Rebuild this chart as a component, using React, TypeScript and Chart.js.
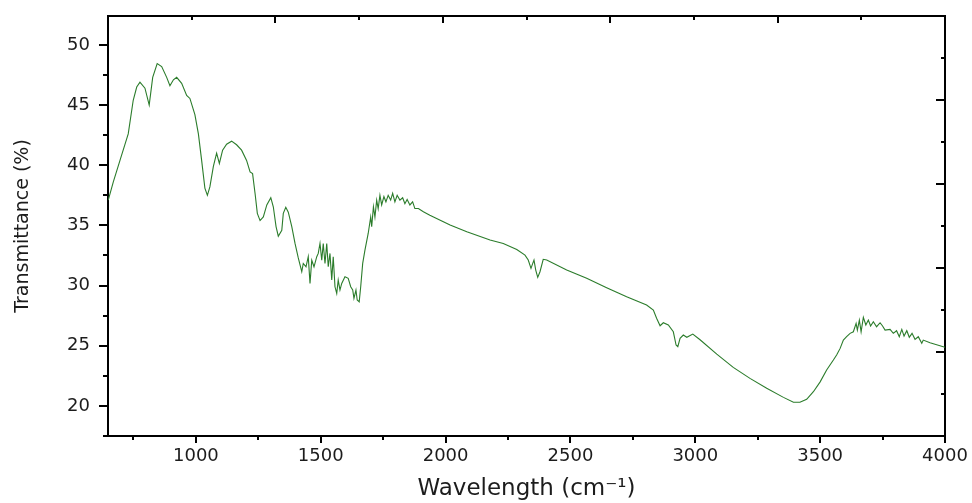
import React, { useEffect, useRef } from 'react';
import { Chart, registerables } from 'chart.js';

Chart.register(...registerables);

// FTIR spectrum
const wavenumber = [
  649, 669, 696, 729, 749, 763, 776, 796, 813, 827, 845, 863, 883, 896, 910, 923, 943, 963, 976, 996,
  1010, 1023, 1036, 1046, 1056, 1070, 1083, 1094, 1107, 1123, 1143, 1163, 1183, 1203, 1217, 1227, 1237, 1246, 1257, 1270,
  1284, 1300, 1310, 1321, 1330, 1344, 1350, 1360, 1370, 1384, 1397, 1410, 1424, 1430, 1441, 1450, 1457, 1464, 1473, 1484,
  1490, 1497, 1504, 1510, 1517, 1524, 1530, 1537, 1544, 1550, 1557, 1564, 1570, 1577, 1584, 1597, 1610, 1620, 1628, 1633,
  1641, 1646, 1654, 1660, 1668, 1677, 1690, 1700, 1704, 1711, 1717, 1724, 1730, 1737, 1744, 1753, 1761, 1770, 1780, 1788,
  1797, 1806, 1817, 1828, 1837, 1846, 1857, 1868, 1877, 1891, 1911, 1937, 1964, 2018, 2085, 2178, 2231, 2285, 2318, 2331,
  2342, 2349, 2354, 2361, 2369, 2378, 2391, 2405, 2485, 2565, 2645, 2725, 2805, 2832, 2845, 2859, 2872, 2892, 2912, 2923,
  2930, 2939, 2952, 2966, 2990, 3019, 3086, 3152, 3219, 3286, 3353, 3393, 3419, 3446, 3473, 3500, 3526, 3553, 3566, 3580,
  3593, 3606, 3620, 3633, 3644, 3649, 3657, 3664, 3673, 3683, 3693, 3702, 3713, 3726, 3740, 3750, 3760, 3780, 3793, 3806,
  3817, 3827, 3836, 3847, 3857, 3868, 3880, 3893, 3907, 3913, 3940, 4000,
];

const transmittance = [
  37.1, 38.6, 40.4, 42.6, 45.4, 46.5, 46.9, 46.4, 45.0, 47.3, 48.45, 48.2, 47.3, 46.6, 47.1, 47.3, 46.8, 45.8, 45.55, 44.2,
  42.6, 40.4, 38.1, 37.5, 38.2, 39.9, 41.0, 40.15, 41.25, 41.75, 42.0, 41.7, 41.25, 40.4, 39.45, 39.3, 37.65, 36.0, 35.4, 35.7,
  36.7, 37.3, 36.55, 34.9, 34.1, 34.6, 36.0, 36.5, 36.1, 34.9, 33.5, 32.3, 31.15, 31.84, 31.56, 32.4, 30.18, 32.1, 31.56, 32.4,
  32.67, 33.5, 32.1, 33.5, 31.84, 33.5, 31.56, 32.67, 30.46, 32.4, 29.9, 29.35, 30.46, 29.63, 30.18, 30.73, 30.6, 29.9, 29.63, 28.94,
  29.63, 28.8, 28.65, 29.9, 31.84, 32.95, 34.33, 35.7, 34.9, 36.55, 35.7, 37.1, 36.4, 37.5, 36.7, 37.4, 36.96, 37.5, 37.1, 37.66,
  36.96, 37.5, 37.1, 37.3, 36.8, 37.15, 36.7, 36.96, 36.4, 36.4, 36.13, 35.85, 35.58, 35.03, 34.47, 33.78, 33.5, 33.0, 32.53, 32.12,
  31.43, 31.84, 32.12, 31.29, 30.68, 31.15, 32.18, 32.12, 31.29, 30.6, 29.82, 29.07, 28.38, 27.97, 27.28, 26.66, 26.91, 26.72, 26.16, 25.06,
  24.92, 25.61, 25.89, 25.7, 25.97, 25.5, 24.3, 23.2, 22.29, 21.46, 20.71, 20.3, 20.3, 20.55, 21.18, 22.0, 22.98, 23.81, 24.23, 24.78,
  25.47, 25.75, 26.03, 26.16, 26.86, 26.3, 27.13, 26.16, 27.36, 26.72, 27.13, 26.64, 27.0, 26.58, 26.91, 26.64, 26.3, 26.36, 26.03, 26.25,
  25.75, 26.36, 25.8, 26.25, 25.7, 26.03, 25.53, 25.75, 25.2, 25.47, 25.25, 24.87,
];

const xMajorTicks = [1000, 1500, 2000, 2500, 3000, 3500, 4000];
const xMinorTicks = [750, 1250, 1750, 2250, 2750, 3250, 3750];
const yMajorTicks = [20, 25, 30, 35, 40, 45, 50];
const yMinorTicks = [17.5, 22.5, 27.5, 32.5, 37.5, 42.5, 47.5];
const frameMajorTicks = [2, 4, 6, 8];
const frameMinorTicks = [1, 3, 5, 7, 9];

const X_MIN = 648;
const X_MAX = 4000;
const Y_MIN = 17.5;
const Y_MAX = 52.4;

const FONT = 'DejaVu Sans';
const TEXT = '#1c1c1c';

const tickPlugin = {
  id: 'ftirTicks',
  afterDraw(chart: any) {
    const { ctx, chartArea: a, scales } = chart;
    ctx.save();
    ctx.strokeStyle = '#000';
    ctx.lineWidth = 2;
    const seg = (x1: number, y1: number, x2: number, y2: number) => {
      ctx.beginPath();
      ctx.moveTo(x1, y1);
      ctx.lineTo(x2, y2);
      ctx.stroke();
    };
    const b = Math.round(a.bottom);
    const l = Math.round(a.left);
    const t = Math.round(a.top);
    const r = Math.round(a.right);
    xMajorTicks.forEach((v) => {
      const p = Math.round(scales.x.getPixelForValue(v));
      seg(p, b, p, b + 7);
    });
    xMinorTicks.forEach((v) => {
      const p = Math.round(scales.x.getPixelForValue(v));
      seg(p, b, p, b + 4);
    });
    yMajorTicks.forEach((v) => {
      const p = Math.round(scales.y.getPixelForValue(v));
      seg(l, p, l - 9, p);
    });
    yMinorTicks.forEach((v) => {
      const p = Math.round(scales.y.getPixelForValue(v));
      seg(l, p, l - 5, p);
    });
    frameMajorTicks.forEach((v) => {
      const px = Math.round(scales.x2.getPixelForValue(v));
      seg(px, t, px, t + 7);
      const py = Math.round(scales.y2.getPixelForValue(v));
      seg(r, py, r - 9, py);
    });
    frameMinorTicks.forEach((v) => {
      const px = Math.round(scales.x2.getPixelForValue(v));
      seg(px, t, px, t + 4);
      const py = Math.round(scales.y2.getPixelForValue(v));
      seg(r, py, r - 4, py);
    });
    ctx.restore();
  },
};

export default function App() {
  const ref = useRef<HTMLCanvasElement | null>(null);

  useEffect(() => {
    if (!ref.current) return;
    const points = wavenumber.map((w, i) => ({ x: w, y: transmittance[i] }));
    const chart = new Chart(ref.current, {
      type: 'line',
      data: {
        datasets: [
          {
            data: points,
            borderColor: '#2b7c2b',
            borderWidth: 1.1,
            pointRadius: 0,
            tension: 0,
            fill: false,
          },
        ],
      },
      options: {
        responsive: false,
        animation: false,
        devicePixelRatio: 1,
        layout: { padding: { top: 16, right: 27, left: 0, bottom: 0 } },
        plugins: { legend: { display: false }, tooltip: { enabled: false } },
        scales: {
          x: {
            type: 'linear',
            position: 'bottom',
            min: X_MIN,
            max: X_MAX,
            afterBuildTicks: (s: any) => {
              s.ticks = xMajorTicks.map((v) => ({ value: v }));
            },
            afterFit: (s: any) => {
              s.height = 67;
              s.paddingLeft = 0;
              s.paddingRight = 0;
            },
            ticks: {
              font: { family: FONT, size: 18 },
              color: TEXT,
              padding: 10,
              maxRotation: 0,
              autoSkip: false,
              callback: (v: any) => String(v),
            },
            grid: { display: false, drawTicks: false },
            border: { display: true, color: '#000', width: 2 },
            title: {
              display: true,
              text: 'Wavelength (cm⁻¹)',
              font: { family: FONT, size: 23 },
              color: TEXT,
              padding: { top: 0, bottom: 0 },
            },
          },
          y: {
            type: 'linear',
            position: 'left',
            min: Y_MIN,
            max: Y_MAX,
            afterBuildTicks: (s: any) => {
              s.ticks = yMajorTicks.map((v) => ({ value: v }));
            },
            afterFit: (s: any) => {
              s.width = 108;
              s.paddingTop = 0;
              s.paddingBottom = 0;
            },
            ticks: {
              font: { family: FONT, size: 18 },
              color: TEXT,
              padding: 18,
              callback: (v: any) => String(v),
            },
            grid: { display: false, drawTicks: false },
            border: { display: true, color: '#000', width: 2 },
            title: {
              display: true,
              text: 'Transmittance (%)',
              font: { family: FONT, size: 19 },
              color: TEXT,
              padding: { top: 12, bottom: 0 },
            },
          },
          x2: {
            type: 'linear',
            position: 'top',
            min: 0,
            max: 10,
            afterFit: (s: any) => {
              s.height = 0;
              s.paddingLeft = 0;
              s.paddingRight = 0;
            },
            ticks: { display: false },
            grid: { display: false, drawTicks: false },
            border: { display: true, color: '#000', width: 2 },
          },
          y2: {
            type: 'linear',
            position: 'right',
            min: 0,
            max: 10,
            afterFit: (s: any) => {
              s.width = 0;
              s.paddingTop = 0;
              s.paddingBottom = 0;
            },
            ticks: { display: false },
            grid: { display: false, drawTicks: false },
            border: { display: true, color: '#000', width: 2 },
          },
        },
      },
      plugins: [tickPlugin],
    });
    return () => chart.destroy();
  }, []);

  return (
    <div style={{ position: 'absolute', left: 0, top: 0, width: 972, height: 503, background: '#fff' }}>
      <canvas ref={ref} width={972} height={503} style={{ display: 'block' }} />
    </div>
  );
}
